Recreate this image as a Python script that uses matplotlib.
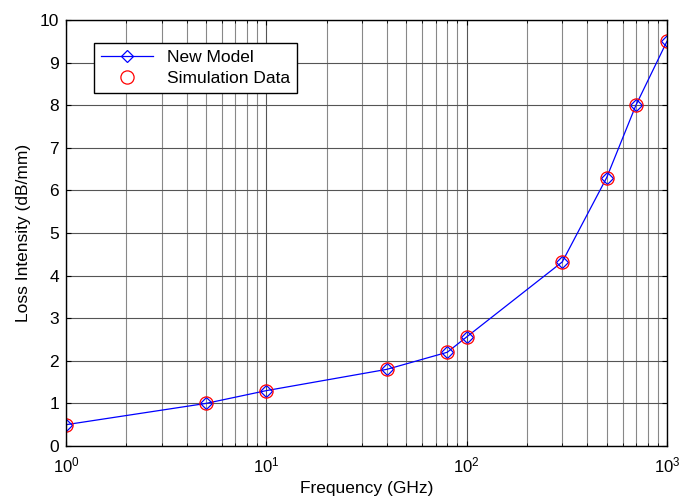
import matplotlib
matplotlib.use('Agg')
import matplotlib.pyplot as plt
from matplotlib.ticker import LogLocator, NullFormatter

freq = [1, 5, 10, 40, 80, 100, 300, 500, 700, 1000]
loss_model = [0.5, 1.0, 1.3, 1.8, 2.2, 2.56, 4.32, 6.3, 8.0, 9.5]
loss_sim = [0.5, 1.0, 1.3, 1.8, 2.2, 2.56, 4.32, 6.3, 8.0, 9.5]

plt.rcParams['font.family'] = ['Liberation Sans', 'DejaVu Sans']
plt.rcParams['font.size'] = 12

fig = plt.figure(figsize=(6.79, 4.99), dpi=100)
ax = fig.add_axes([0.0972, 0.1062, 0.8851, 0.8538])

ax.plot(freq, loss_model, color='blue', lw=0.9, marker='D', ms=6.5,
        mfc='none', mec='blue', mew=0.9, label='New Model')
ax.plot(freq, loss_sim, ls='none', marker='o', ms=9.5, mfc='none',
        mec='red', mew=0.9, label='Simulation Data')

ax.set_xscale('log')
ax.set_xlim(1, 1000)
ax.set_ylim(0, 10)
ax.set_yticks(range(0, 11))
ax.xaxis.set_minor_locator(LogLocator(base=10, subs=range(2, 10)))
ax.xaxis.set_minor_formatter(NullFormatter())

ax.grid(True, which='major', axis='both', color='#555555', lw=0.8)
ax.grid(True, which='minor', axis='x', color='#888888', lw=0.8)
ax.set_axisbelow(True)

ax.tick_params(which='both', direction='in', top=True, right=True)
ax.tick_params(axis='x', which='major', pad=7, labelsize=12)
ax.tick_params(axis='y', which='major', pad=5, labelsize=12.5)
ax.tick_params(which='minor', length=2)
for s in ax.spines.values():
    s.set_linewidth(1.0)

ax.set_xlabel('Frequency (GHz)', fontsize=12.5, labelpad=4)
ax.set_ylabel('Loss Intensity (dB/mm)', fontsize=12.5, labelpad=6)

leg = ax.legend(loc='upper left', bbox_to_anchor=(0.0466, 0.946),
                borderaxespad=0, fancybox=False, framealpha=1,
                edgecolor='black', fontsize=12.5, handlelength=3.0,
                borderpad=0.4, labelspacing=0.35)
leg.get_frame().set_linewidth(1.0)

fig.savefig('out.png', dpi=100)
